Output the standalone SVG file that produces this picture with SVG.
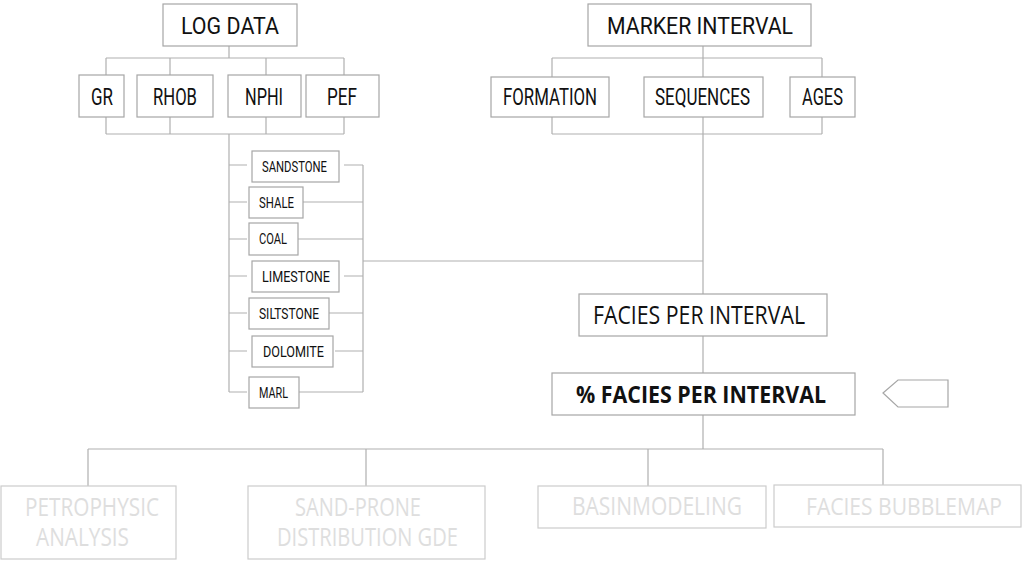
<svg xmlns="http://www.w3.org/2000/svg" width="1029" height="569" viewBox="0 0 1029 569">
<style>
.bx{fill:#fff;stroke:#a6a6a6;stroke-width:1.2}
.lbx{fill:#fff;stroke:#cccccc;stroke-width:1.2}
.ln{fill:none;stroke:#b0b0b0;stroke-width:1.2}
.t{font-family:"Roboto","Liberation Sans",sans-serif;fill:#111;text-anchor:start}
.big{font-size:24.5px}
.sm{font-size:14px}
.o{font-family:"Open Sans","Noto Sans",sans-serif;fill:#111}
.g{font-family:"Open Sans","Noto Sans",sans-serif;fill:#dedede;font-size:25px}
</style>
<rect width="1029" height="569" fill="#fff"/>
<g id="connectors">
<path class="ln" d="M229,46V58M106,58H344M106,58V75M170,58V75M266,58V75M344,58V75"/>
<path class="ln" d="M106,117V134M170,117V134M266,117V134M344,117V134M106,134H344"/>
<path class="ln" d="M229,134V392"/>
<path class="ln" d="M229,165H247M229,202H247M229,239H247M229,276H247M229,313H247M229,351H247M229,392H247"/>
<path class="ln" d="M344,165H363M303,202H363M298,239H363M344,276H363M329,313H363M335,351H363M299,392H363M363,165V392"/>
<path class="ln" d="M363,261H703"/>
<path class="ln" d="M703,46V58M552,58H822M552,58V77M703,58V77M822,58V77"/>
<path class="ln" d="M552,117V134M703,117V134M822,117V134M552,134H822"/>
<path class="ln" d="M703,134V294M703,336V373M703,415V449"/>
<path class="ln" d="M88,449H883M88,449V486M366,449V486M648,449V486M883,449V485"/>
</g>
<g id="logdata"><rect class="bx" x="163" y="4" width="134" height="42"/><text class="t big" x="181" y="34" textLength="98" lengthAdjust="spacingAndGlyphs">LOG DATA</text></g>
<g id="gr"><rect class="bx" x="79" y="75" width="45" height="42"/><text class="t big" x="91" y="105" textLength="22" lengthAdjust="spacingAndGlyphs">GR</text></g>
<g id="rhob"><rect class="bx" x="137" y="75" width="76" height="42"/><text class="t big" x="153" y="105" textLength="44" lengthAdjust="spacingAndGlyphs">RHOB</text></g>
<g id="nphi"><rect class="bx" x="228" y="75" width="73" height="42"/><text class="t big" x="245" y="105" textLength="38" lengthAdjust="spacingAndGlyphs">NPHI</text></g>
<g id="pef"><rect class="bx" x="306" y="75" width="73" height="42"/><text class="t big" x="327" y="105" textLength="30" lengthAdjust="spacingAndGlyphs">PEF</text></g>
<g id="marker"><rect class="bx" x="588" y="4" width="223" height="42"/><text class="t big" x="607" y="34" textLength="186" lengthAdjust="spacingAndGlyphs">MARKER INTERVAL</text></g>
<g id="formation"><rect class="bx" x="491" y="77" width="118" height="40"/><text class="t big" x="503" y="105" textLength="94" lengthAdjust="spacingAndGlyphs">FORMATION</text></g>
<g id="sequences"><rect class="bx" x="644" y="77" width="119" height="40"/><text class="t big" x="655" y="105" textLength="95" lengthAdjust="spacingAndGlyphs">SEQUENCES</text></g>
<g id="ages"><rect class="bx" x="790" y="77" width="65" height="40"/><text class="t big" x="802" y="105" textLength="41" lengthAdjust="spacingAndGlyphs">AGES</text></g>
<g id="sandstone"><rect class="bx" x="252" y="151" width="87" height="31"/><text class="t sm" x="262" y="172" textLength="65" lengthAdjust="spacingAndGlyphs">SANDSTONE</text></g>
<g id="shale"><rect class="bx" x="249" y="187" width="54" height="31"/><text class="t sm" x="259" y="208" textLength="35" lengthAdjust="spacingAndGlyphs">SHALE</text></g>
<g id="coal"><rect class="bx" x="249" y="223" width="49" height="32"/><text class="t sm" x="259" y="244" textLength="28" lengthAdjust="spacingAndGlyphs">COAL</text></g>
<g id="limestone"><rect class="bx" x="252" y="261" width="87" height="31"/><text class="t sm" x="262" y="282" textLength="68" lengthAdjust="spacingAndGlyphs">LIMESTONE</text></g>
<g id="siltstone"><rect class="bx" x="249" y="298" width="80" height="31"/><text class="t sm" x="259" y="319" textLength="60" lengthAdjust="spacingAndGlyphs">SILTSTONE</text></g>
<g id="dolomite"><rect class="bx" x="252" y="336" width="81" height="31"/><text class="t sm" x="263" y="357" textLength="61" lengthAdjust="spacingAndGlyphs">DOLOMITE</text></g>
<g id="marl"><rect class="bx" x="249" y="377" width="50" height="31"/><text class="t sm" x="259" y="398" textLength="29" lengthAdjust="spacingAndGlyphs">MARL</text></g>
<g id="facies"><rect class="bx" x="579" y="294" width="248" height="42"/><text class="o" font-size="26" x="593" y="324" textLength="212" lengthAdjust="spacingAndGlyphs">FACIES PER INTERVAL</text></g>
<g id="pctfacies"><rect class="bx" x="552" y="373" width="303" height="42"/><text class="o" font-size="24" font-weight="bold" x="576" y="403" textLength="250" lengthAdjust="spacingAndGlyphs">% FACIES PER INTERVAL</text></g>
<g id="pointer"><polygon class="bx" points="883,393 898,380 948,380 948,407 898,407"/></g>
<g id="petro"><rect class="lbx" x="1" y="486" width="175" height="73"/><text class="g" x="25" y="516" textLength="134" lengthAdjust="spacingAndGlyphs">PETROPHYSIC</text><text class="g" x="36" y="546" textLength="93" lengthAdjust="spacingAndGlyphs">ANALYSIS</text></g>
<g id="sandprone"><rect class="lbx" x="248" y="486" width="237" height="73"/><text class="g" x="295" y="516" textLength="126" lengthAdjust="spacingAndGlyphs">SAND-PRONE</text><text class="g" x="277" y="546" textLength="181" lengthAdjust="spacingAndGlyphs">DISTRIBUTION GDE</text></g>
<g id="basin"><rect class="lbx" x="538" y="486" width="228" height="42"/><text class="g" x="572" y="515" textLength="170" lengthAdjust="spacingAndGlyphs">BASINMODELING</text></g>
<g id="bubble"><rect class="lbx" x="774" y="485" width="247" height="42"/><text class="g" style="font-size:23px" x="806" y="515" textLength="196" lengthAdjust="spacingAndGlyphs">FACIES BUBBLEMAP</text></g>
</svg>
